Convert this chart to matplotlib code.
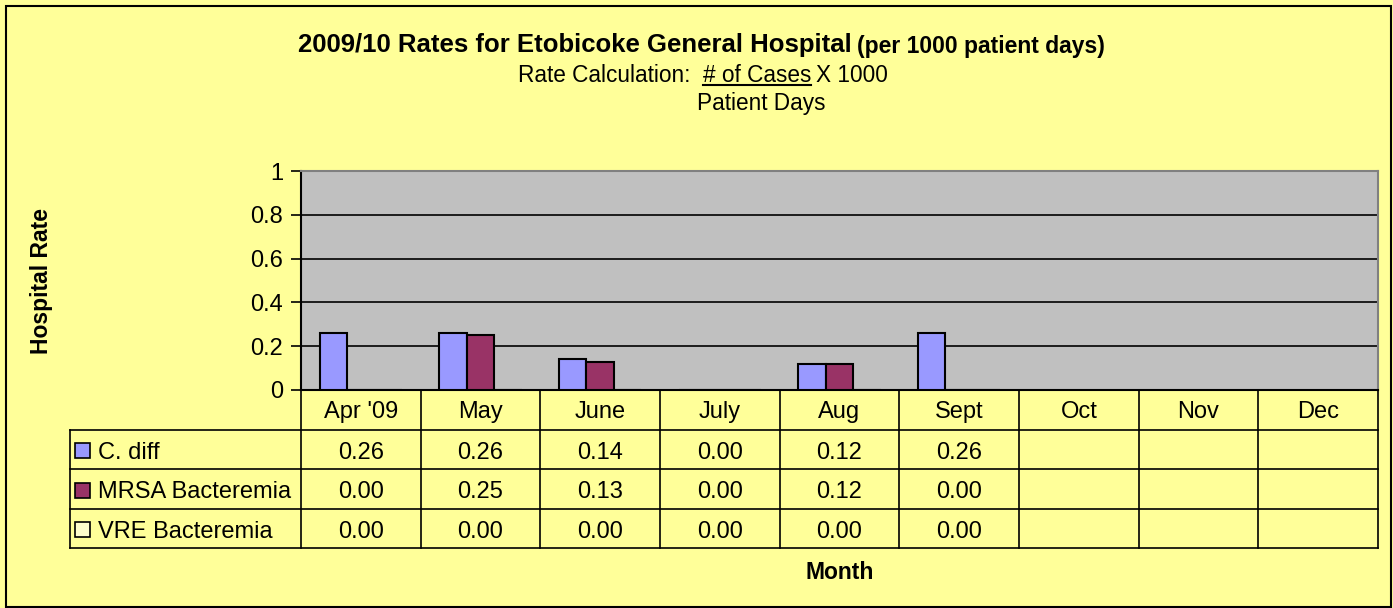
import matplotlib
matplotlib.use("Agg")
import matplotlib.pyplot as plt
import numpy as np
from matplotlib.lines import Line2D
from matplotlib.patches import Rectangle

plt.rcParams['font.family'] = ['Liberation Sans', 'DejaVu Sans']

months = ["Apr '09", "May", "June", "July", "Aug", "Sept", "Oct", "Nov", "Dec"]
series_names = ["C. diff", "MRSA Bacteremia", "VRE Bacteremia"]
cdiff = [0.26, 0.26, 0.14, 0.00, 0.12, 0.26, None, None, None]
mrsa = [0.00, 0.25, 0.13, 0.00, 0.12, 0.00, None, None, None]
vre = [0.00, 0.00, 0.00, 0.00, 0.00, 0.00, None, None, None]
series_values = [cdiff, mrsa, vre]
series_colors = ["#9999FF", "#993366", "#FFFFCC"]
yticks = [0, 0.2, 0.4, 0.6, 0.8, 1]
ytick_labels = ["0", "0.2", "0.4", "0.6", "0.8", "1"]

W, H = 1393, 608
fig = plt.figure(figsize=(W / 100, H / 100), dpi=100)
fig.patch.set_facecolor("#FFFF99")

def fx(px):
    return px / W

def fy(py):
    return 1 - py / H

# outer border
fig.add_artist(Rectangle((fx(6), fy(607)), fx(1391) - fx(6), fy(6) - fy(607),
                         transform=fig.transFigure, fill=False, edgecolor="black", lw=1.5))

# main plot area
L, R, T, B = 301, 1378, 171, 390
ax = fig.add_axes([fx(L), fy(B), fx(R) - fx(L), fy(T) - fy(B)])
ax.set_facecolor("#C0C0C0")
n = len(months)
x = np.arange(n)
bw = 0.23
for i, (vals, col) in enumerate(zip(series_values, series_colors)):
    v = np.array([np.nan if a is None else a for a in vals], dtype=float)
    ax.bar(x + (i - 1) * bw, v, width=bw, color=col, edgecolor="black", lw=1.5, zorder=3)
ax.set_xlim(-0.5, n - 0.5)
ax.set_ylim(0, 1)
ax.set_yticks(yticks)
ax.set_yticklabels(ytick_labels, fontsize=17)
ax.set_xticks([])
ax.yaxis.grid(True, color="black", lw=1.2)
ax.set_axisbelow(True)
ax.tick_params(axis="y", direction="out", length=7, width=1.2, pad=6)
for s in ["top", "right"]:
    ax.spines[s].set_color("#808080")
    ax.spines[s].set_linewidth(1.5)
ax.spines["left"].set_linewidth(1.5)
ax.spines["bottom"].set_linewidth(1.5)

# data table
TL, TB = 70, 548
tab = fig.add_axes([fx(TL), fy(TB), fx(R) - fx(TL), fy(B) - fy(TB)])
tab.set_facecolor("none")
tab.axis("off")
unit = (R - L) / n
left_ext = (L - TL) / unit
tab.set_xlim(-0.5 - left_ext, n - 0.5)
tab.set_ylim(4, 0)
lk = dict(color="black", lw=1.2, clip_on=False)
for k in range(n + 1):
    tab.plot([k - 0.5, k - 0.5], [0, 4], **lk)
for r in range(1, 5):
    tab.plot([-0.5 - left_ext, n - 0.5], [r, r], **lk)
tab.plot([-0.5 - left_ext, -0.5 - left_ext], [1, 4], **lk)
for k, m in enumerate(months):
    tab.text(k, 0.55, m, ha="center", va="center", fontsize=17)
for r, (name, vals, col) in enumerate(zip(series_names, series_values, series_colors)):
    yc = r + 1.5
    tab.add_patch(Rectangle((-0.5 - left_ext + 0.045, yc - 0.15), 0.125, 0.38,
                            facecolor=col, edgecolor="black", lw=1.2, clip_on=False))
    tab.text(-0.5 - left_ext + 0.235, yc + 0.09, name, ha="left", va="center", fontsize=17)
    for k, v in enumerate(vals):
        if v is not None:
            tab.text(k, yc + 0.09, f"{v:.2f}", ha="center", va="center", fontsize=17)

r = fig.canvas.get_renderer()

# titles
t1 = fig.text(fx(298), fy(52), "2009/10 Rates for Etobicoke General Hospital",
              ha="left", va="baseline", fontsize=18.5, fontweight="bold")
bb = t1.get_window_extent(r)
fig.text(bb.x1 / W + fx(5), fy(53), "(per 1000 patient days)", ha="left", va="baseline",
         fontsize=16.5, fontweight="bold")

fs2 = 16.3
p1 = fig.text(fx(518), fy(82), "Rate Calculation:  ", ha="left", va="baseline", fontsize=fs2)
b1 = p1.get_window_extent(r)
p2 = fig.text(b1.x1 / W, fy(82), "# of Cases", ha="left", va="baseline", fontsize=fs2)
b2 = p2.get_window_extent(r)
fig.text(b2.x1 / W + fx(5), fy(82), "X 1000", ha="left", va="baseline", fontsize=fs2)
fig.add_artist(Line2D([b2.x0 / W, b2.x1 / W], [fy(85), fy(85)], transform=fig.transFigure,
                      color="black", lw=1.5))
fig.text(fx(697), fy(110), "Patient Days", ha="left", va="baseline", fontsize=fs2)

fig.text(fx(42), fy(281), "Hospital Rate", ha="center", va="center", rotation=90,
         fontsize=16.5, fontweight="bold")
fig.text(fx(840), fy(579), "Month", ha="center", va="baseline", fontsize=16.5, fontweight="bold")

fig.savefig("out.png", dpi=100, facecolor=fig.get_facecolor())
